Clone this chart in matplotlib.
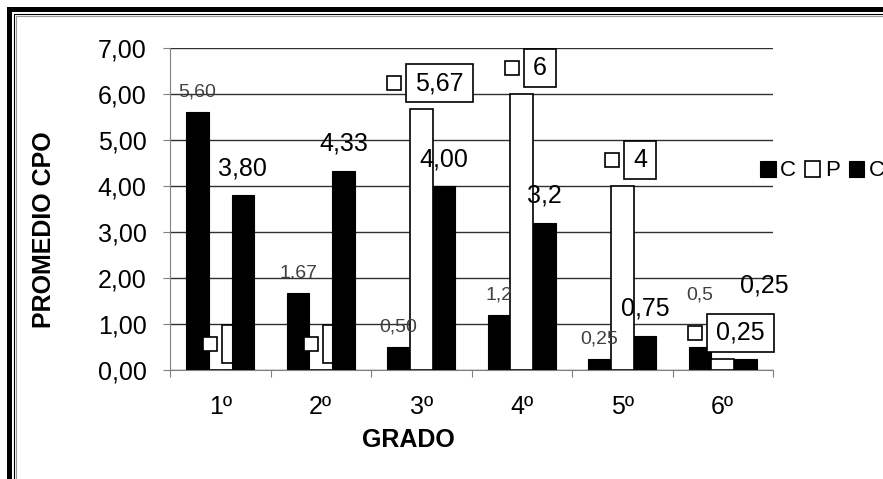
import matplotlib
matplotlib.use("Agg")
import matplotlib.pyplot as plt
from matplotlib.path import Path
from matplotlib.patches import Rectangle
from matplotlib.lines import Line2D

plt.rcParams["font.family"] = ["Liberation Sans", "DejaVu Sans"]

grados = ["1º", "2º", "3º", "4º", "5º", "6º"]
c_first = [5.60, 1.67, 0.50, 1.2, 0.25, 0.5]
c_first_labels = ["5,60", "1.67", "0,50", "1,2", "0,25", "0,5"]
p_vals = [0, 0, 5.67, 6, 4, 0.25]
p_labels = ["0", "0", "5,67", "6", "4", "0,25"]
c_second = [3.80, 4.33, 4.00, 3.2, 0.75, 0.25]
c_second_labels = ["3,80", "4,33", "4,00", "3,2", "0,75", "0,25"]
legend_names = ["C", "P", "C"]
y_ticks = [0, 1, 2, 3, 4, 5, 6, 7]

W, H = 883, 479


def fx(px):
    return px / W


def fy(py):
    return 1 - py / H


def boxed_key(x0, y0, width, height, mutation_size):
    # value box with the little legend key sitting to its left
    px, py, key, gap = 9, 7, 14, 5
    bx0, bx1 = x0 - px, x0 + width + px
    by0, by1 = y0 - py, y0 + height + py
    kx1 = bx0 - gap
    kx0 = kx1 - key
    cy = (by0 + by1) / 2
    ky0, ky1 = cy - key / 2, cy + key / 2
    verts = [(bx0, by0), (bx1, by0), (bx1, by1), (bx0, by1), (bx0, by0),
             (kx0, ky0), (kx1, ky0), (kx1, ky1), (kx0, ky1), (kx0, ky0)]
    codes = [Path.MOVETO, Path.LINETO, Path.LINETO, Path.LINETO, Path.CLOSEPOLY] * 2
    return Path(verts, codes)


fig = plt.figure(figsize=(W / 100, H / 100), dpi=100)
ax = fig.add_axes([fx(170), 1 - 370 / H, (773 - 170) / W, (370 - 48) / H])

x = list(range(len(grados)))
bw = 0.225

b1 = ax.bar([i - bw for i in x], c_first, bw, color="black", edgecolor="black", linewidth=0.8, zorder=2)
b2 = ax.bar(x, p_vals, bw, color="white", edgecolor="black", linewidth=1.2, zorder=2)
b3 = ax.bar([i + bw for i in x], c_second, bw, color="black", edgecolor="black", linewidth=0.8, zorder=3)

ax.set_xlim(-0.5, len(grados) - 0.5)
ax.set_ylim(0, 7)
ax.set_axisbelow(True)
ax.yaxis.grid(True, color="#303030", linewidth=1.0)

ax.set_yticks(y_ticks)
ax.set_yticklabels([f"{v:.2f}".replace(".", ",") for v in y_ticks], fontsize=18)
ax.tick_params(axis="y", length=5, color="#808080", pad=12)

ax.set_xticks([i - 0.5 for i in range(len(grados) + 1)])
ax.set_xticklabels([])
ax.set_xticks(x, minor=True)
ax.set_xticklabels(grados, minor=True, fontsize=18)
ax.tick_params(axis="x", which="major", length=5, color="#808080")
ax.tick_params(axis="x", which="minor", length=0, pad=18)

for side in ["top", "right"]:
    ax.spines[side].set_visible(False)
for side in ["left", "bottom"]:
    ax.spines[side].set_color("#808080")

# labels of the first C series (small, light)
c1_shift = {5: (0, 52)}
for i, (v, t) in enumerate(zip(c_first, c_first_labels)):
    dx, dy = c1_shift.get(i, (0, 20))
    ax.annotate(t, (i - bw, v), xytext=(dx, dy), textcoords="offset pixels",
                ha="center", va="center", fontsize=14, color="#404040", zorder=5)

# labels of the P series: boxed, with key
for i, (v, t) in enumerate(zip(p_vals, p_labels)):
    ax.annotate(t, (i, v), xytext=(18, 26), textcoords="offset pixels",
                ha="center", va="center", fontsize=18, color="black", zorder=2.5,
                bbox=dict(boxstyle=boxed_key, fc="white", ec="black", lw=1.2))

# labels of the second C series (large)
c2_shift = {5: (19, 73)}
for i, (v, t) in enumerate(zip(c_second, c_second_labels)):
    dx, dy = c2_shift.get(i, (0, 27))
    ax.annotate(t, (i + bw, v), xytext=(dx, dy), textcoords="offset pixels",
                ha="center", va="center", fontsize=18, color="black", zorder=5)

fig.text(fx(44), fy(230), "PROMEDIO CPO", rotation=90, ha="center", va="center",
         fontsize=18, fontweight="bold")
fig.text(fx(408), fy(440), "GRADO", ha="center", va="center",
         fontsize=18, fontweight="bold")

# legend runs off the right edge, as in the original
fig.legend([b1, b2, b3], legend_names, loc="center left", bbox_to_anchor=(fx(740), fy(171)),
           ncol=3, frameon=False, fontsize=16, handlelength=0.7, handleheight=0.7,
           handletextpad=0.2, columnspacing=0.4)

# double frame on the left and top edges
fig.add_artist(Rectangle((fx(7), 0), 5 / W, fy(7), transform=fig.transFigure,
                         color="black", lw=0))
fig.add_artist(Rectangle((fx(7), fy(12)), 1 - fx(7), 5 / H, transform=fig.transFigure,
                         color="black", lw=0))
fig.add_artist(Line2D([fx(14), fx(14), 1], [0, fy(14), fy(14)], transform=fig.transFigure,
                      color="black", lw=0.8))
fig.add_artist(Line2D([fx(16), fx(16), 1], [0, fy(16), fy(16)], transform=fig.transFigure,
                      color="#999999", lw=0.8))

fig.savefig("out.png", dpi=100)
